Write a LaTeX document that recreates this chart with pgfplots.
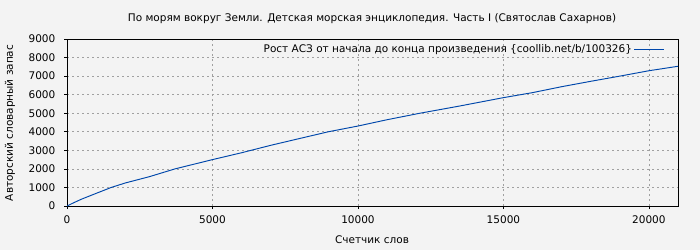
\documentclass[border=0pt]{standalone}
\usepackage{fontspec}
\setmainfont{DejaVu Sans}
\usepackage{pgfplots}
\pgfplotsset{compat=1.18}
\definecolor{bg}{HTML}{F3F3F3}
\definecolor{ln}{HTML}{0047AB}
\definecolor{gr}{HTML}{A0A0A0}
\begin{document}
\fontsize{10.5pt}{12pt}\selectfont
\begin{tikzpicture}
\fill[bg] (0pt,0pt) rectangle (700pt,250pt);
\begin{axis}[
  at={(67pt,44pt)}, anchor=south west,
  scale only axis, width=611pt, height=167pt,
  xmin=0, xmax=21000, ymin=0, ymax=9000,
  xtick={0,5000,10000,15000,20000},
  ytick={0,1000,2000,3000,4000,5000,6000,7000,8000,9000},
  scaled ticks=false,
  /pgf/number format/1000 sep={},
  /pgf/number format/assume math mode=true,
  grid=major,
  major grid style={gr, dash pattern=on 2pt off 3pt, line width=0.6pt},
  tick align=outside, tick pos=left, major tick length=3pt,
  tick style={black, line width=0.7pt},
  axis line style={black, line width=0.8pt},
  ticklabel style={font=\fontsize{10.5pt}{12pt}\selectfont},
  xticklabel style={yshift=-3pt},
  yticklabel style={xshift=-5pt},
  legend style={at={(1,1)}, anchor=north east, draw=none, fill=none,
    font=\fontsize{10.5pt}{12pt}\selectfont, xshift=-10pt, yshift=-1pt},
  legend plot pos=right,
  legend cell align=right,
  legend image code/.code={\draw[#1, line width=0.8pt] (5pt,0pt) -- (35pt,0pt);},
]
\addplot[ln, line width=0.95pt] coordinates {
(0,0) (250,190) (500,370) (1000,680) (1520,1000) (2000,1240) (2830,1580)
(3710,2000) (5000,2500) (6000,2870) (7000,3270) (8000,3640) (8980,4000)
(10000,4310) (11000,4650) (12130,5000) (13500,5390) (15000,5840)
(16000,6110) (17000,6430) (18000,6720) (19000,7000) (20000,7290) (21000,7530)
};
\addlegendentry{Рост АСЗ от начала до конца произведения \{coollib.net/b/100326\}}
\end{axis}
\node at (372pt,231pt) {По морям вокруг Земли. Детская морская энциклопедия. Часть I (Святослав Сахарнов)};
\node at (372pt,10pt) {Счетчик слов};
\node[rotate=90] at (10pt,127pt) {Авторский словарный запас};
\end{tikzpicture}
\end{document}
